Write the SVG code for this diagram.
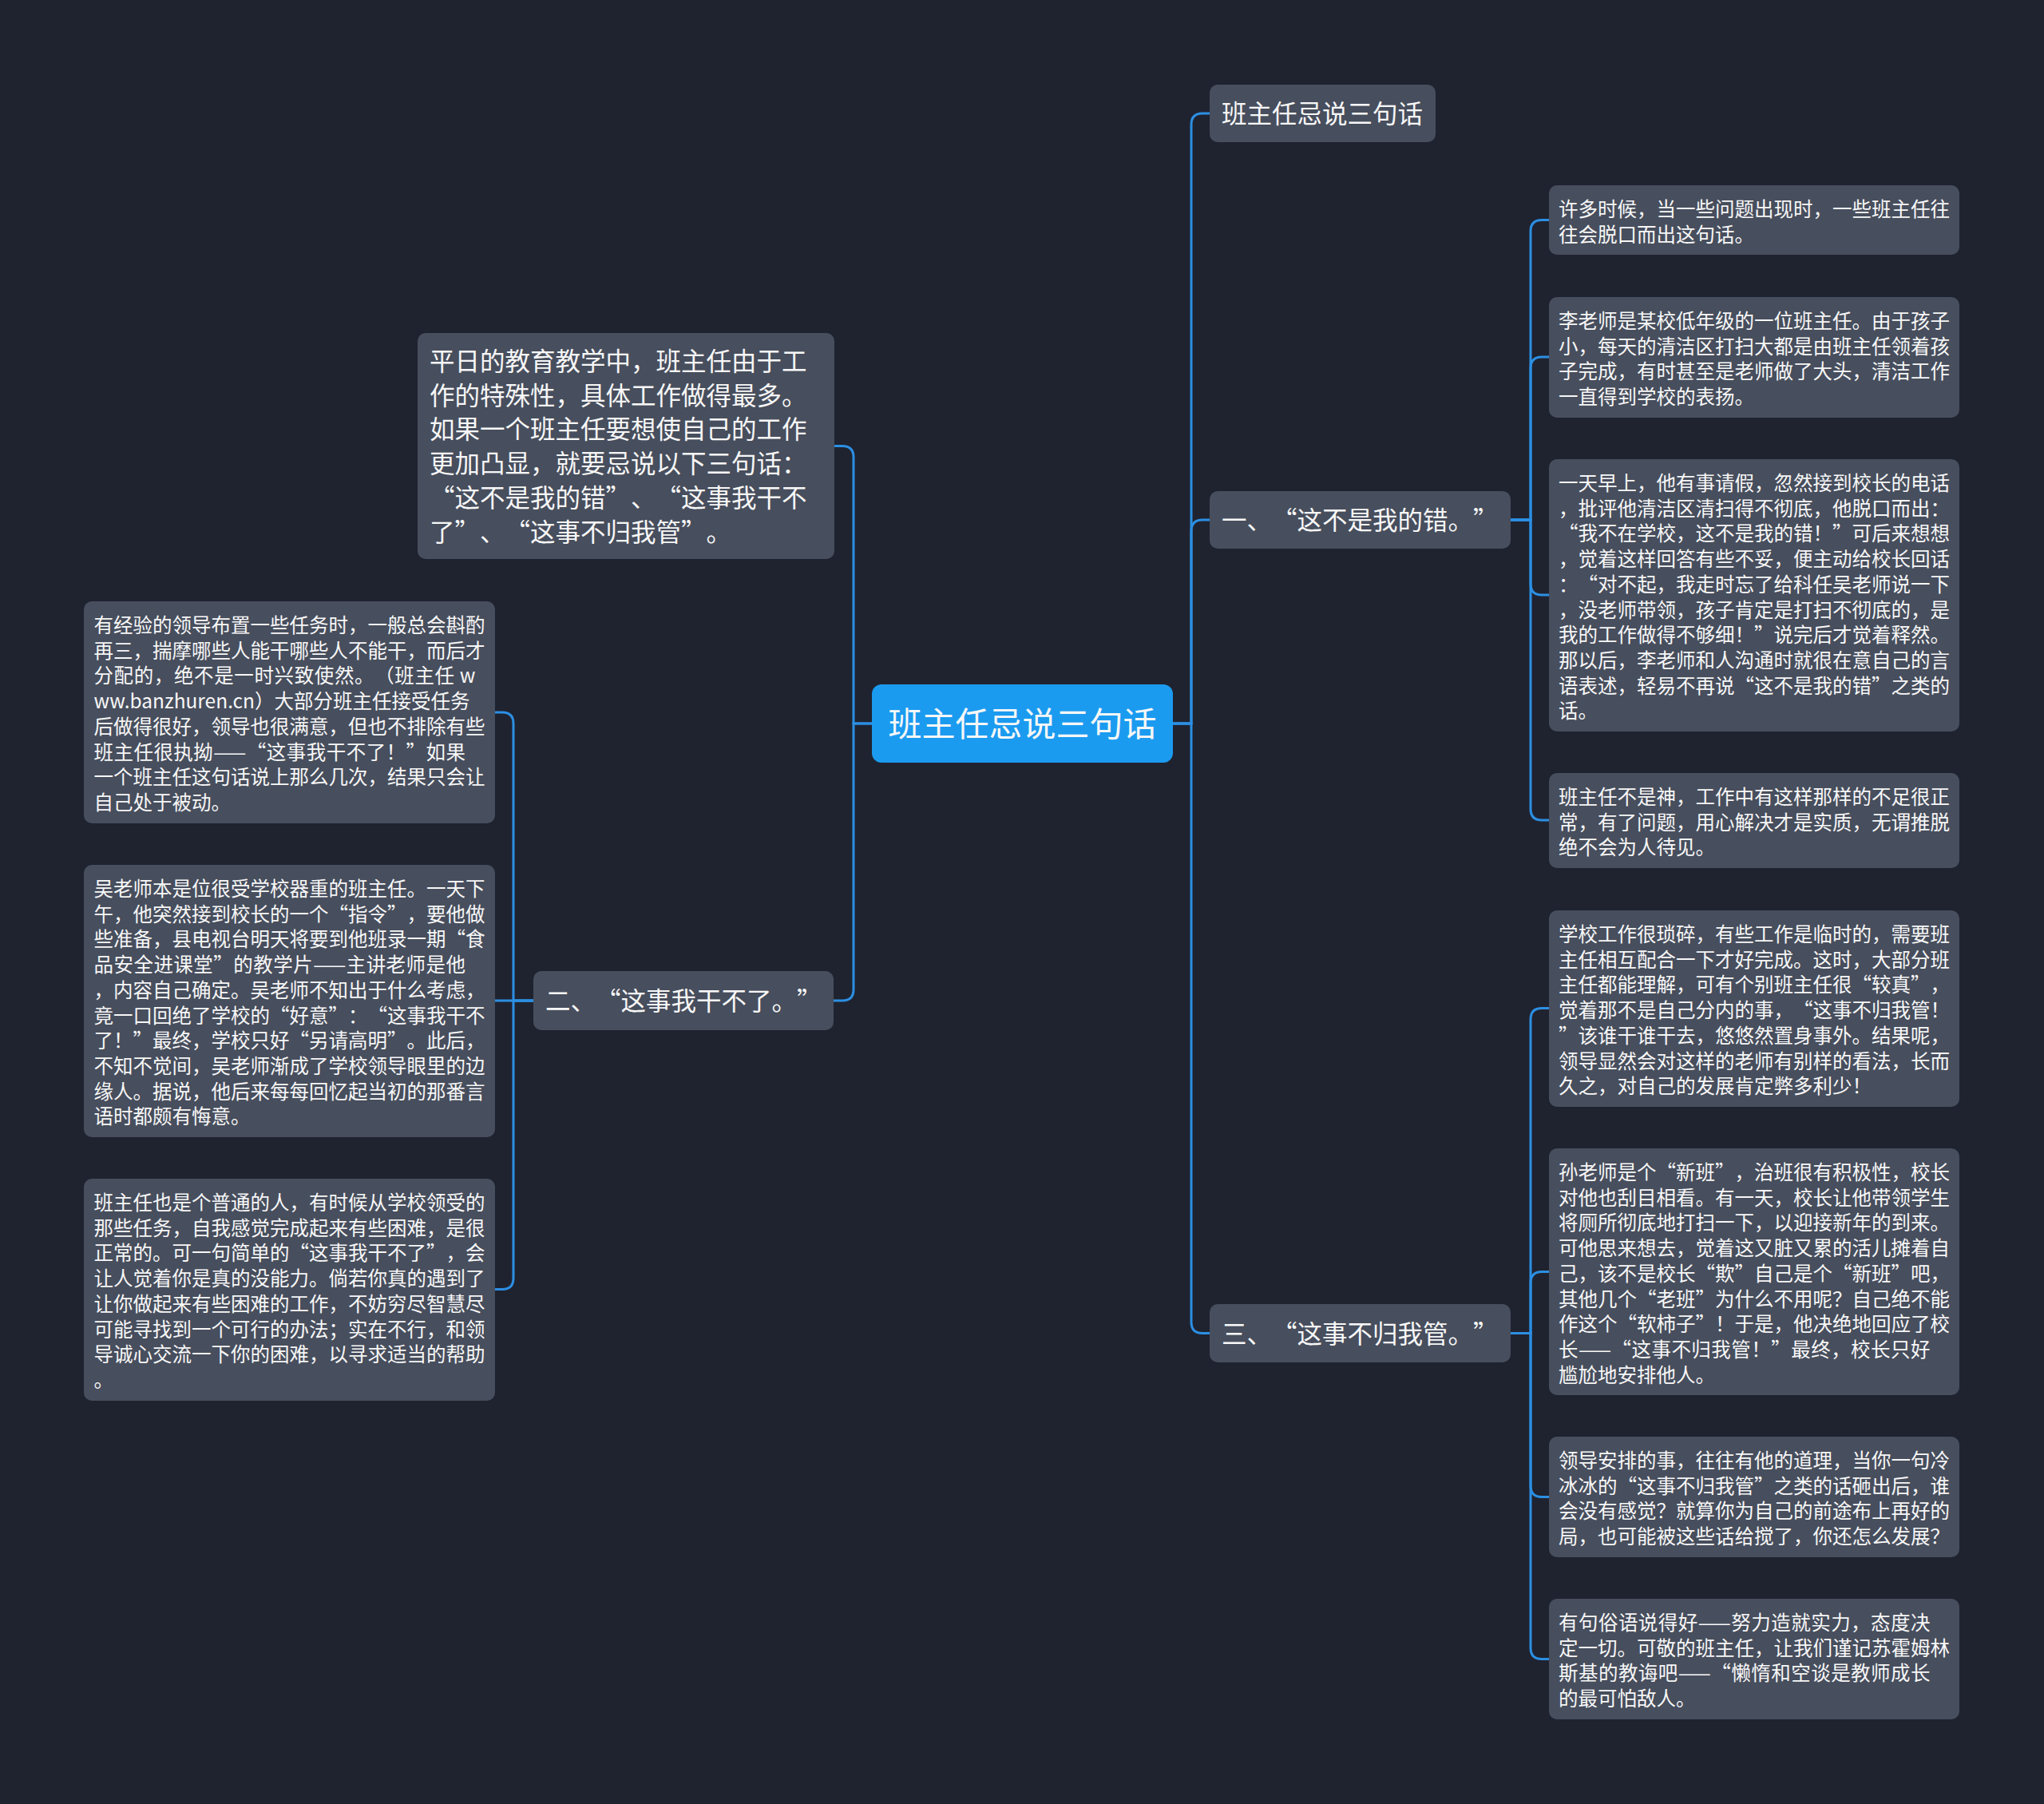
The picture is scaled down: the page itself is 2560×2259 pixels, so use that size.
<svg xmlns="http://www.w3.org/2000/svg" width="2560" height="2259" viewBox="0 0 2560 2259">
<style>
.n{fill:#474e5d}
.c{fill:#1b9bf0}
text{fill:#f7f7f7;font-family:"Noto Sans CJK SC","Liberation Sans",sans-serif;text-spacing-trim:space-all}
.s{font-size:24.5px}
.m{font-size:31.5px}
.l{font-size:42px}
.conn path{fill:none;stroke:#2c8fe3;stroke-width:3}
</style>
<rect width="2560" height="2259" fill="#1f2330"/>
<g class="conn">
<path d="M1469 906H1492V156Q1492 142 1506 142H1515"/>
<path d="M1469 906H1492V665Q1492 651 1506 651H1515"/>
<path d="M1469 906H1492V1655.5Q1492 1669.5 1506 1669.5H1515"/>
<path d="M1092 906H1069V572.5Q1069 558.5 1055 558.5H1045"/>
<path d="M1092 906H1069V1239Q1069 1253 1055 1253H1044"/>
<path d="M1892 651H1917V289.5Q1917 275.5 1931 275.5H1940"/>
<path d="M1892 651H1917V461Q1917 447 1931 447H1940"/>
<path d="M1892 651H1917V731Q1917 745 1931 745H1940"/>
<path d="M1892 651H1917V1013Q1917 1027 1931 1027H1940"/>
<path d="M1892 1669.5H1917V1276.5Q1917 1262.5 1931 1262.5H1940"/>
<path d="M1892 1669.5H1917V1606.5Q1917 1592.5 1931 1592.5H1940"/>
<path d="M1892 1669.5H1917V1860.5Q1917 1874.5 1931 1874.5H1940"/>
<path d="M1892 1669.5H1917V2063.5Q1917 2077.5 1931 2077.5H1940"/>
<path d="M668 1253H643V906Q643 892 629 892H620"/>
<path d="M668 1253H620"/>
<path d="M668 1253H643V1600.5Q643 1614.5 629 1614.5H620"/>
</g>
<g id="center">
<rect class="c" x="1092" y="857" width="377" height="98" rx="12"/>
<text class="l" x="1280.5" y="922" text-anchor="middle">班主任忌说三句话</text>
</g>
<g id="title2">
<rect class="n" x="1515" y="106" width="283" height="72" rx="10"/>
<text class="m" x="1530" y="154" textLength="252" lengthAdjust="spacing">班主任忌说三句话</text>
</g>
<g id="b1">
<rect class="n" x="1515" y="615" width="377" height="72" rx="10"/>
<text class="m" x="1530" y="663" textLength="346.5" lengthAdjust="spacing">一、“这不是我的错。”</text>
</g>
<g id="b2">
<rect class="n" x="668" y="1216" width="376" height="74" rx="10"/>
<text class="m" x="683" y="1265" textLength="346.5" lengthAdjust="spacing">二、“这事我干不了。”</text>
</g>
<g id="b3">
<rect class="n" x="1515" y="1633" width="377" height="73" rx="10"/>
<text class="m" x="1530" y="1681.5" textLength="346.5" lengthAdjust="spacing">三、“这事不归我管。”</text>
</g>
<g id="intro">
<rect class="n" x="523" y="417" width="522" height="283" rx="10"/>
<text class="m" x="538" y="464" textLength="472.5" lengthAdjust="spacing">平日的教育教学中，班主任由于工</text>
<text class="m" x="538" y="506.7" textLength="472.5" lengthAdjust="spacing">作的特殊性，具体工作做得最多。</text>
<text class="m" x="538" y="549.4" textLength="472.5" lengthAdjust="spacing">如果一个班主任要想使自己的工作</text>
<text class="m" x="538" y="592.1" textLength="472.5" lengthAdjust="spacing">更加凸显，就要忌说以下三句话：</text>
<text class="m" x="538" y="634.8" textLength="472.5" lengthAdjust="spacing">“这不是我的错”、“这事我干不</text>
<text class="m" x="538" y="677.5" textLength="378" lengthAdjust="spacing">了”、“这事不归我管”。</text>
</g>
<g id="r1">
<rect class="n" x="1940" y="232" width="514" height="87" rx="10"/>
<text class="s" x="1952" y="271" textLength="490" lengthAdjust="spacing">许多时候，当一些问题出现时，一些班主任往</text>
<text class="s" x="1952" y="302.7">往会脱口而出这句话。</text>
</g>
<g id="r2">
<rect class="n" x="1940" y="372" width="514" height="151" rx="10"/>
<text class="s" x="1952" y="411" textLength="490" lengthAdjust="spacing">李老师是某校低年级的一位班主任。由于孩子</text>
<text class="s" x="1952" y="442.7" textLength="490" lengthAdjust="spacing">小，每天的清洁区打扫大都是由班主任领着孩</text>
<text class="s" x="1952" y="474.4" textLength="490" lengthAdjust="spacing">子完成，有时甚至是老师做了大头，清洁工作</text>
<text class="s" x="1952" y="506.1">一直得到学校的表扬。</text>
</g>
<g id="r3">
<rect class="n" x="1940" y="575" width="514" height="341" rx="10"/>
<text class="s" x="1952" y="614" textLength="490" lengthAdjust="spacing">一天早上，他有事请假，忽然接到校长的电话</text>
<text class="s" x="1952" y="645.7" textLength="490" lengthAdjust="spacing">，批评他清洁区清扫得不彻底，他脱口而出：</text>
<text class="s" x="1952" y="677.4" textLength="490" lengthAdjust="spacing">“我不在学校，这不是我的错！”可后来想想</text>
<text class="s" x="1952" y="709.1" textLength="490" lengthAdjust="spacing">，觉着这样回答有些不妥，便主动给校长回话</text>
<text class="s" x="1952" y="740.8" textLength="490" lengthAdjust="spacing">：“对不起，我走时忘了给科任吴老师说一下</text>
<text class="s" x="1952" y="772.5" textLength="490" lengthAdjust="spacing">，没老师带领，孩子肯定是打扫不彻底的，是</text>
<text class="s" x="1952" y="804.2" textLength="490" lengthAdjust="spacing">我的工作做得不够细！”说完后才觉着释然。</text>
<text class="s" x="1952" y="835.9" textLength="490" lengthAdjust="spacing">那以后，李老师和人沟通时就很在意自己的言</text>
<text class="s" x="1952" y="867.6" textLength="490" lengthAdjust="spacing">语表述，轻易不再说“这不是我的错”之类的</text>
<text class="s" x="1952" y="899.3">话。</text>
</g>
<g id="r4">
<rect class="n" x="1940" y="968" width="514" height="119" rx="10"/>
<text class="s" x="1952" y="1007" textLength="490" lengthAdjust="spacing">班主任不是神，工作中有这样那样的不足很正</text>
<text class="s" x="1952" y="1038.7" textLength="490" lengthAdjust="spacing">常，有了问题，用心解决才是实质，无谓推脱</text>
<text class="s" x="1952" y="1070.4">绝不会为人待见。</text>
</g>
<g id="r5">
<rect class="n" x="1940" y="1140" width="514" height="246" rx="10"/>
<text class="s" x="1952" y="1179" textLength="490" lengthAdjust="spacing">学校工作很琐碎，有些工作是临时的，需要班</text>
<text class="s" x="1952" y="1210.7" textLength="490" lengthAdjust="spacing">主任相互配合一下才好完成。这时，大部分班</text>
<text class="s" x="1952" y="1242.4" textLength="490" lengthAdjust="spacing">主任都能理解，可有个别班主任很“较真”，</text>
<text class="s" x="1952" y="1274.1" textLength="490" lengthAdjust="spacing">觉着那不是自己分内的事，“这事不归我管！</text>
<text class="s" x="1952" y="1305.8" textLength="490" lengthAdjust="spacing">”该谁干谁干去，悠悠然置身事外。结果呢，</text>
<text class="s" x="1952" y="1337.5" textLength="490" lengthAdjust="spacing">领导显然会对这样的老师有别样的看法，长而</text>
<text class="s" x="1952" y="1369.2">久之，对自己的发展肯定弊多利少！</text>
</g>
<g id="r6">
<rect class="n" x="1940" y="1438" width="514" height="309" rx="10"/>
<text class="s" x="1952" y="1477" textLength="490" lengthAdjust="spacing">孙老师是个“新班”，治班很有积极性，校长</text>
<text class="s" x="1952" y="1508.7" textLength="490" lengthAdjust="spacing">对他也刮目相看。有一天，校长让他带领学生</text>
<text class="s" x="1952" y="1540.4" textLength="490" lengthAdjust="spacing">将厕所彻底地打扫一下，以迎接新年的到来。</text>
<text class="s" x="1952" y="1572.1" textLength="490" lengthAdjust="spacing">可他思来想去，觉着这又脏又累的活儿摊着自</text>
<text class="s" x="1952" y="1603.8" textLength="490" lengthAdjust="spacing">己，该不是校长“欺”自己是个“新班”吧，</text>
<text class="s" x="1952" y="1635.5" textLength="490" lengthAdjust="spacing">其他几个“老班”为什么不用呢？自己绝不能</text>
<text class="s" x="1952" y="1667.2" textLength="490" lengthAdjust="spacing">作这个“软柿子”！于是，他决绝地回应了校</text>
<text class="s" x="1952" y="1698.9" textLength="465.5" lengthAdjust="spacing">长——“这事不归我管！”最终，校长只好</text>
<text class="s" x="1952" y="1730.6">尴尬地安排他人。</text>
</g>
<g id="r7">
<rect class="n" x="1940" y="1799" width="514" height="151" rx="10"/>
<text class="s" x="1952" y="1838" textLength="490" lengthAdjust="spacing">领导安排的事，往往有他的道理，当你一句冷</text>
<text class="s" x="1952" y="1869.7" textLength="490" lengthAdjust="spacing">冰冰的“这事不归我管”之类的话砸出后，谁</text>
<text class="s" x="1952" y="1901.4" textLength="490" lengthAdjust="spacing">会没有感觉？就算你为自己的前途布上再好的</text>
<text class="s" x="1952" y="1933.1" textLength="490" lengthAdjust="spacing">局，也可能被这些话给搅了，你还怎么发展？</text>
</g>
<g id="r8">
<rect class="n" x="1940" y="2002" width="514" height="151" rx="10"/>
<text class="s" x="1952" y="2041" textLength="465.5" lengthAdjust="spacing">有句俗语说得好——努力造就实力，态度决</text>
<text class="s" x="1952" y="2072.7" textLength="490" lengthAdjust="spacing">定一切。可敬的班主任，让我们谨记苏霍姆林</text>
<text class="s" x="1952" y="2104.4" textLength="465.5" lengthAdjust="spacing">斯基的教诲吧——“懒惰和空谈是教师成长</text>
<text class="s" x="1952" y="2136.1">的最可怕敌人。</text>
</g>
<g id="l1">
<rect class="n" x="105" y="753" width="515" height="278" rx="10"/>
<text class="s" x="117.5" y="792" textLength="490" lengthAdjust="spacing">有经验的领导布置一些任务时，一般总会斟酌</text>
<text class="s" x="117.5" y="823.7" textLength="490" lengthAdjust="spacing">再三，揣摩哪些人能干哪些人不能干，而后才</text>
<text class="s" x="117.5" y="855.4" textLength="478" lengthAdjust="spacing">分配的，绝不是一时兴致使然。（班主任 w</text>
<text class="s" x="117.5" y="887.1">ww.banzhuren.cn）大部分班主任接受任务</text>
<text class="s" x="117.5" y="918.8" textLength="490" lengthAdjust="spacing">后做得很好，领导也很满意，但也不排除有些</text>
<text class="s" x="117.5" y="950.5" textLength="465.5" lengthAdjust="spacing">班主任很执拗——“这事我干不了！”如果</text>
<text class="s" x="117.5" y="982.2" textLength="490" lengthAdjust="spacing">一个班主任这句话说上那么几次，结果只会让</text>
<text class="s" x="117.5" y="1013.9">自己处于被动。</text>
</g>
<g id="l2">
<rect class="n" x="105" y="1083" width="515" height="341" rx="10"/>
<text class="s" x="117.5" y="1122" textLength="490" lengthAdjust="spacing">吴老师本是位很受学校器重的班主任。一天下</text>
<text class="s" x="117.5" y="1153.7" textLength="490" lengthAdjust="spacing">午，他突然接到校长的一个“指令”，要他做</text>
<text class="s" x="117.5" y="1185.4" textLength="490" lengthAdjust="spacing">些准备，县电视台明天将要到他班录一期“食</text>
<text class="s" x="117.5" y="1217.1" textLength="465.5" lengthAdjust="spacing">品安全进课堂”的教学片——主讲老师是他</text>
<text class="s" x="117.5" y="1248.8" textLength="490" lengthAdjust="spacing">，内容自己确定。吴老师不知出于什么考虑，</text>
<text class="s" x="117.5" y="1280.5" textLength="490" lengthAdjust="spacing">竟一口回绝了学校的“好意”：“这事我干不</text>
<text class="s" x="117.5" y="1312.2" textLength="490" lengthAdjust="spacing">了！”最终，学校只好“另请高明”。此后，</text>
<text class="s" x="117.5" y="1343.9" textLength="490" lengthAdjust="spacing">不知不觉间，吴老师渐成了学校领导眼里的边</text>
<text class="s" x="117.5" y="1375.6" textLength="490" lengthAdjust="spacing">缘人。据说，他后来每每回忆起当初的那番言</text>
<text class="s" x="117.5" y="1407.3">语时都颇有悔意。</text>
</g>
<g id="l3">
<rect class="n" x="105" y="1476" width="515" height="278" rx="10"/>
<text class="s" x="117.5" y="1515" textLength="490" lengthAdjust="spacing">班主任也是个普通的人，有时候从学校领受的</text>
<text class="s" x="117.5" y="1546.7" textLength="490" lengthAdjust="spacing">那些任务，自我感觉完成起来有些困难，是很</text>
<text class="s" x="117.5" y="1578.4" textLength="490" lengthAdjust="spacing">正常的。可一句简单的“这事我干不了”，会</text>
<text class="s" x="117.5" y="1610.1" textLength="490" lengthAdjust="spacing">让人觉着你是真的没能力。倘若你真的遇到了</text>
<text class="s" x="117.5" y="1641.8" textLength="490" lengthAdjust="spacing">让你做起来有些困难的工作，不妨穷尽智慧尽</text>
<text class="s" x="117.5" y="1673.5" textLength="490" lengthAdjust="spacing">可能寻找到一个可行的办法；实在不行，和领</text>
<text class="s" x="117.5" y="1705.2" textLength="490" lengthAdjust="spacing">导诚心交流一下你的困难，以寻求适当的帮助</text>
<text class="s" x="117.5" y="1736.9">。</text>
</g>
</svg>
